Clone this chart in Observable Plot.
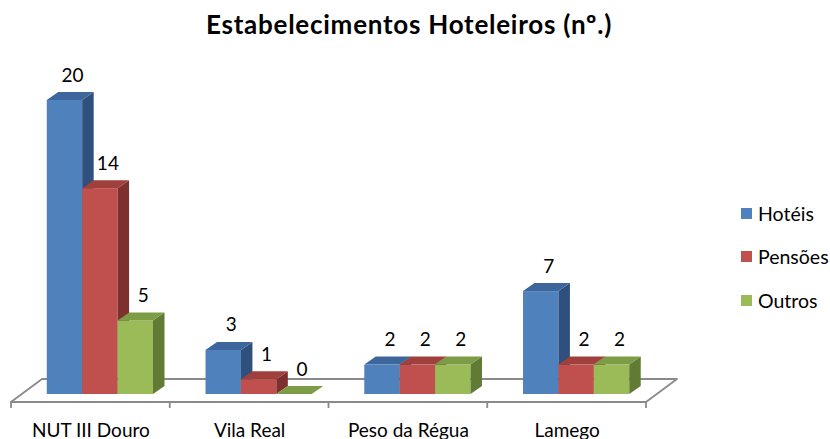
<!DOCTYPE html>
<html><head><meta charset="utf-8">
<script src="https://cdn.jsdelivr.net/npm/d3@7"></script>
<script src="https://cdn.jsdelivr.net/npm/@observablehq/plot@0.6"></script>
<style>
body{margin:0;background:#fff;font-family:Lato,sans-serif;color:#000;}
#wrap{position:relative;width:830px;height:439px;overflow:hidden;}
#chart{position:absolute;left:0;top:0;}
#title{position:absolute;left:0;width:818px;top:9px;text-align:center;font-weight:bold;font-size:26px;letter-spacing:0.75px;line-height:30px;}
#legend{position:absolute;left:741px;top:192px;font-size:19.5px;}
.item{display:flex;align-items:center;height:43.3px;}
.sw{width:11px;height:11px;margin-right:6px;flex:none;}
</style></head><body>
<div id="wrap"><div id="chart"></div><div id="title">Estabelecimentos Hoteleiros (nº.)</div><div id="legend"></div></div>
<script>
const categories = ["NUT III Douro", "Vila Real", "Peso da Régua", "Lamego"];
const series = ["Hotéis", "Pensões", "Outros"];
const hoteis = [20, 3, 2, 7];
const pensoes = [14, 1, 2, 2];
const outros = [5, 0, 2, 2];
const frontColors = ["#4F81BD", "#C0504D", "#9BBB59"];
const topColors = ["#3D679C", "#A0403D", "#7E9B46"];
const sideColors = ["#2F507C", "#7D302E", "#627B34"];

const seriesValues = [hoteis, pensoes, outros];
const data = series.flatMap((s, si) => categories.map((c, ci) => ({category: c, series: s, si, value: seriesValues[si][ci]})));

const BW = 35.4;          // single bar width (px)
const DX = 11.5, DY = -8; // bar depth
const FX = -9.5, FY = 8;  // floor front offset
const BX = 21.5, BY = -15;// floor back offset

function floorRender(index, scales, values, dims) {
  const g = d3.create("svg:g");
  const y0 = scales.y(0);
  const xl = dims.marginLeft, xr = dims.width - dims.marginRight;
  const step = (xr - xl) / categories.length;
  g.append("path")
    .attr("d", `M${xl + FX},${y0 + FY}L${xr + FX},${y0 + FY}L${xr + BX},${y0 + BY}L${xl + BX},${y0 + BY}Z`)
    .attr("fill", "none").attr("stroke", "#8a8a8a").attr("stroke-width", 1.8).attr("stroke-linejoin", "round");
  for (let k = 0; k <= categories.length; k++) {
    const x = xl + k * step + FX;
    g.append("line").attr("x1", x).attr("x2", x).attr("y1", y0 + FY).attr("y2", y0 + FY + 6)
      .attr("stroke", "#8a8a8a").attr("stroke-width", 1.8);
  }
  return g.node();
}

function boxRender(si) {
  return function(index, scales, values, dims, ctx, next) {
    const g = next(index, scales, values, dims, ctx);
    const bw = scales.x.bandwidth();
    for (const i of index) {
      const x0 = values.x[i], x1 = x0 + bw;
      const yt = Math.min(values.y1[i], values.y2[i]);
      const yb = Math.max(values.y1[i], values.y2[i]);
      const side = document.createElementNS("http://www.w3.org/2000/svg", "path");
      side.setAttribute("d", `M${x1},${yb}L${x1 + DX},${yb + DY}L${x1 + DX},${yt + DY}L${x1},${yt}Z`);
      side.setAttribute("fill", sideColors[si]);
      g.appendChild(side);
      const top = document.createElementNS("http://www.w3.org/2000/svg", "path");
      top.setAttribute("d", `M${x0},${yt}L${x0 + DX},${yt + DY}L${x1 + DX},${yt + DY}L${x1},${yt}Z`);
      top.setAttribute("fill", topColors[si]);
      g.appendChild(top);
    }
    return g;
  };
}

const marks = [
  Plot.ruleY([0], {render: floorRender}),
  ...series.map((s, si) => Plot.barY(data.filter(d => d.si === si), {
    x: "category", y: "value", fill: frontColors[si], dx: (si - 1) * BW, render: boxRender(si)
  })),
  ...series.map((s, si) => Plot.text(data.filter(d => d.si === si), {
    x: "category", y: "value", text: d => String(d.value),
    dx: (si - 1) * BW + 7.5, dy: -19, lineAnchor: "bottom", textAnchor: "middle",
    fontSize: 19, fill: "#000"
  })),
  Plot.axisX({tickSize: 0, tickPadding: 29, dx: FX, fontSize: 19, label: null, fill: "#000"})
];

const chart = Plot.plot({
  width: 830, height: 439,
  marginLeft: 20.5, marginRight: 174.5, marginTop: 100, marginBottom: 45,
  style: {fontFamily: "Lato, sans-serif", background: "#fff", color: "#000"},
  x: {domain: categories, paddingInner: 0.777, paddingOuter: 0.3885, round: false},
  y: {domain: [0, 20], axis: null},
  marks
});
document.getElementById("chart").appendChild(chart);

const legend = d3.select("#legend");
series.forEach((s, si) => {
  const it = legend.append("div").attr("class", "item");
  it.append("div").attr("class", "sw").style("background", frontColors[si]);
  it.append("span").text(s);
});
</script>
</body></html>
